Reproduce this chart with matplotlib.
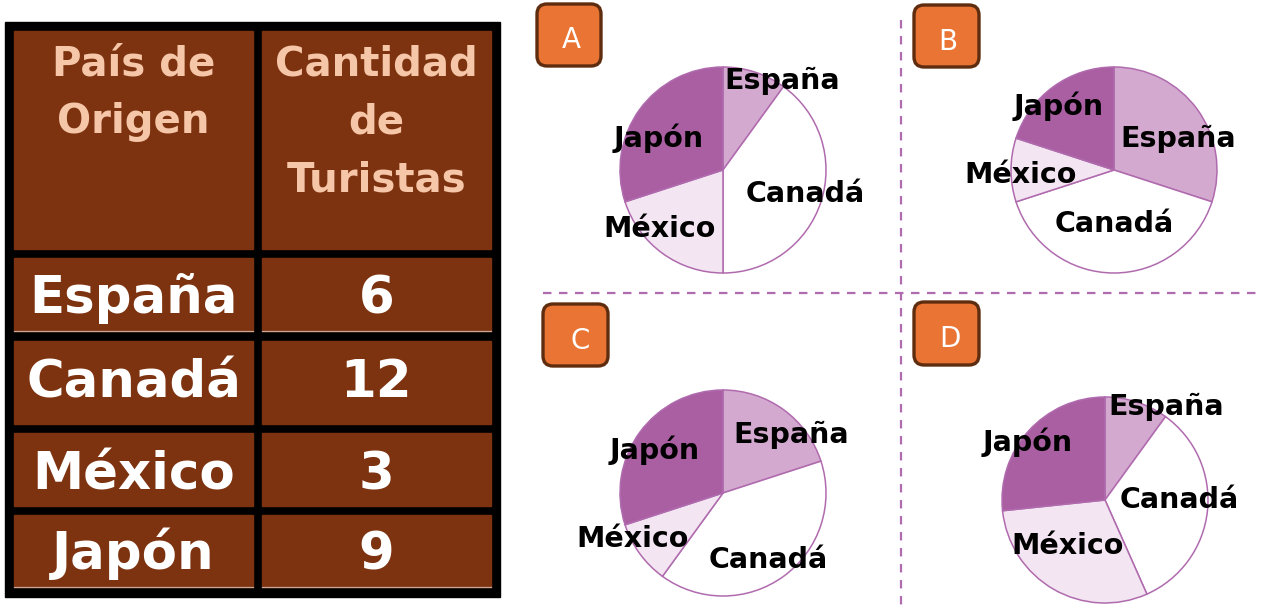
import matplotlib
matplotlib.use("Agg")
import matplotlib.pyplot as plt
from matplotlib.patches import Rectangle, FancyBboxPatch

W, H = 1266, 610

# --- data ---
countries = ["España", "Canadá", "México", "Japón"]
tourists = [6, 12, 3, 9]
header_left = "País de\nOrigen"
header_right = "Cantidad\nde\nTuristas"

option_letters = ["A", "B", "C", "D"]
pie_a = [3, 12, 6, 9]
pie_b = [9, 12, 3, 6]
pie_c = [6, 12, 3, 9]
pie_d = [3, 10, 9, 8]

# --- styles ---
brown = "#7e3310"
peach = "#f6c6a8"
slice_colors = ["#d3a9cf", "#ffffff", "#f3e5f1", "#aa5fa3"]
edge_purple = "#b06bae"
orange = "#ea7434"
dark_brown = "#5e2c0e"


def fy(y):
    return H - y


fig = plt.figure(figsize=(W / 100, H / 100), dpi=100)
ax = fig.add_axes([0, 0, 1, 1])

# --- table ---
ax.add_patch(Rectangle((5, fy(597)), 495, 575, color="black", zorder=1))
cols = [(14, 253), (262, 491)]
rows = [(31, 249), (258, 331), (341, 424), (433, 506), (515, 587)]
for (x0, x1) in cols:
    for (y0, y1) in rows:
        ax.add_patch(Rectangle((x0, fy(y1)), x1 - x0, y1 - y0, color=brown, zorder=2))
    # faint light rule under the first and last body rows
    for yl in (rows[1][1], rows[4][1]):
        ax.plot([x0, x1], [fy(yl), fy(yl)], color="#c9a898", lw=0.9, zorder=3)

hdr_kw = dict(color=peach, fontsize=29, fontweight="bold", ha="center",
              va="baseline", family="DejaVu Sans", zorder=3)
for i, line in enumerate(header_left.split("\n")):
    ax.text(133.5, fy(75 + 58.5 * i), line, **hdr_kw)
for i, line in enumerate(header_right.split("\n")):
    ax.text(376.5, fy(75 + 58.5 * i), line, **hdr_kw)

body_baselines = [313, 397, 489, 569]
body_kw = dict(color="white", fontsize=37, fontweight="bold", ha="center",
               va="baseline", family="DejaVu Sans", zorder=3)
for name, val, yb in zip(countries, tourists, body_baselines):
    ax.text(133.5, fy(yb), name, **body_kw)
    ax.text(376.5, fy(yb), str(val), **body_kw)

# --- dashed dividers ---
ax.plot([543, 1262], [fy(293), fy(293)], color=edge_purple, lw=1.6,
        ls=(0, (3.8, 3.4)), zorder=1)
ax.plot([901, 901], [fy(20), fy(606)], color=edge_purple, lw=1.6,
        ls=(0, (3.8, 3.4)), zorder=1)

# --- pies ---
pies = [pie_a, pie_b, pie_c, pie_d]
pie_centers = [(723, 170), (1114, 170), (723, 493), (1105, 500)]
pie_r = 103
label_pos = [
    [(782, 89), (805, 202), (660, 237), (659, 147)],
    [(1178, 147), (1114, 232), (1021, 183), (1059, 115)],
    [(791, 443), (768, 568), (633, 547), (655, 459)],
    [(1166, 415), (1179, 508), (1068, 554), (1028, 451)],
]
for vals, (cx, cy), labs in zip(pies, pie_centers, label_pos):
    ax.pie(vals, colors=slice_colors, center=(cx, fy(cy)), radius=pie_r,
           startangle=90, counterclock=False,
           wedgeprops=dict(edgecolor=edge_purple, linewidth=1.1))
    for name, (lx, ly) in zip(countries, labs):
        ax.text(lx, fy(ly), name, color="black", fontsize=20.5,
                fontweight="bold", ha="center", va="baseline",
                family="DejaVu Sans", zorder=5)

# --- option boxes ---
boxes = [(535, 2, 68, 66), (912, 3, 69, 66), (541, 302, 69, 66), (912, 300, 69, 67)]
letter_pos = [(571, 40), (948, 42), (580, 341), (950, 339)]
for letter, (bx, by, bw, bh), (tx, ty) in zip(option_letters, boxes, letter_pos):
    ax.add_patch(FancyBboxPatch((bx + 2, fy(by + bh) + 2), bw - 4, bh - 4,
                                boxstyle="round,pad=0,rounding_size=10",
                                facecolor=orange, edgecolor=dark_brown,
                                linewidth=2.4, zorder=4))
    ax.text(tx, fy(ty), letter, color="white", fontsize=20, ha="center",
            va="center", family="DejaVu Sans", zorder=5)

ax.set_xlim(0, W)
ax.set_ylim(0, H)
ax.set_aspect("equal")
ax.axis("off")

fig.savefig("out.png", dpi=100, facecolor="white")
